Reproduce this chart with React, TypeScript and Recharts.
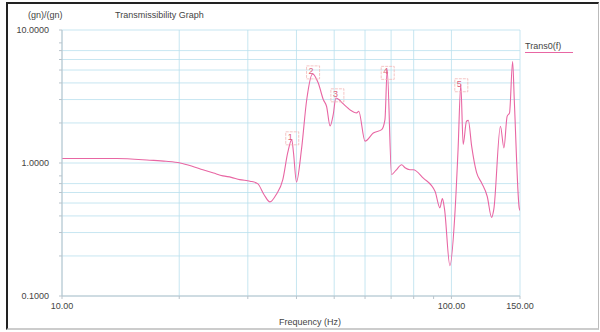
import { LineChart, Line, XAxis, YAxis, CartesianGrid, ReferenceDot } from "recharts";

const freq = [
  10, 12, 13.8, 16.8, 18.5, 20.1, 21.5, 23, 24.5, 25.9, 27.2, 28.6, 30.4, 31.8, 33, 34.2, 35.5, 36.9,
  38.0, 38.9, 39.3, 40, 41.2, 42.5, 44.0, 45.5, 46.9, 47.8, 48.8, 49.7, 50.5, 51.5, 52.5, 54.8, 57.1,
  57.8, 60.0, 63.0, 66.2, 67.5, 68.4, 70.2, 72, 74.5, 76, 78.2, 79.8, 84.7, 90.8, 93.4, 94.8, 96,
  99.1, 102, 104, 105.7, 107.2, 109.3, 110.5, 112.7, 116, 119.5, 123.6, 126.8, 128.5, 133.6, 136.4,
  139, 141, 143.6, 145, 149.3, 150,
];
const trans = [
  1.08, 1.08, 1.08, 1.05, 1.03, 1.0, 0.95, 0.89, 0.84, 0.8, 0.78, 0.75, 0.73, 0.7, 0.58, 0.51, 0.58,
  0.75, 1.2, 1.5, 1.2, 0.72, 1.26, 2.99, 4.68, 3.99, 2.99, 2.66, 1.9, 2.3, 3.08, 2.99, 2.82, 2.52,
  2.38, 2.45, 1.46, 1.68, 1.78, 2.12, 5.02, 0.82, 0.88, 0.97, 0.92, 0.89, 0.89, 0.77, 0.61, 0.46,
  0.54, 0.45, 0.169, 0.4, 1.26, 3.87, 1.38, 2.06, 2.09, 1.34, 0.85, 0.71, 0.56, 0.39, 0.45, 1.89,
  1.3, 2.24, 2.38, 5.8, 3.0, 0.46, 0.44,
];

const markerFreq = [38.9, 44.0, 50.8, 68.4, 105.7];
const markerVal = [1.52, 4.76, 3.2, 4.72, 3.81];
const markerLabels = ["1", "2", "3", "4", "5"];

const xTicks = [10, 20, 30, 40, 50, 60, 70, 80, 90, 100, 150];
const xLabeled = [10, 100, 150];
const yTicks = [
  0.1, 0.2, 0.3, 0.4, 0.5, 0.6, 0.7, 0.8, 0.9, 1, 2, 3, 4, 5, 6, 7, 8, 9, 10,
];
const yLabeled = [0.1, 1, 10];

const data = freq.map((f, i) => ({ f, v: trans[i] }));

const font = "'Liberation Sans', Arial, sans-serif";
const pink = "#e866a3";

function Marker(props: any) {
  const { cx, cy, label } = props;
  return (
    <g>
      <rect x={cx - 6} y={cy - 7} width={13} height={13} fill="none" stroke="#f2b8b8" strokeWidth={0.8} strokeDasharray="3 1" />
      <text x={cx - 4} y={cy + 1} fontSize={9} fill="#e0607a" fontFamily={font}>
        {label}
      </text>
    </g>
  );
}

export default function App() {
  return (
    <div style={{ position: "absolute", left: 0, top: 0, width: 600, height: 332, background: "#fff", fontFamily: font }}>
      <div
        style={{
          position: "absolute",
          left: 6,
          top: 2,
          width: 590,
          height: 324,
          borderTop: "2px solid #222",
          borderLeft: "2px solid #222",
          borderRight: "1px solid #bbb",
          borderBottom: "2px solid #ccc",
        }}
      />
      <div style={{ position: "absolute", left: 28, top: 10, fontSize: 9, color: "#444" }}>(gn)/(gn)</div>
      <div style={{ position: "absolute", left: 115, top: 10, fontSize: 9, color: "#444" }}>Transmissibility Graph</div>
      <div style={{ position: "absolute", left: 525, top: 41, fontSize: 9, color: "#444" }}>Trans0(f)</div>
      <div style={{ position: "absolute", left: 525, top: 52, width: 48, height: 0, borderTop: `1px solid ${pink}` }} />
      <div style={{ position: "absolute", left: 0, top: 317, width: 620, textAlign: "center", fontSize: 9, color: "#444" }}>
        Frequency (Hz)
      </div>
      <div style={{ position: "absolute", left: 0, top: 0 }}>
        <LineChart width={600} height={332} data={data} margin={{ top: 30, right: 80, bottom: 16, left: 8 }}>
          <CartesianGrid stroke="#b9dfee" strokeWidth={0.8} />
          <XAxis
            dataKey="f"
            type="number"
            scale="log"
            domain={[10, 150]}
            ticks={xTicks}
            allowDataOverflow
            height={20}
            tickSize={3}
            tickMargin={4}
            tickLine={{ stroke: "#b9c4cc" }}
            axisLine={{ stroke: "#b9c4cc" }}
            tick={{ fontSize: 9, fill: "#444", fontFamily: font }}
            tickFormatter={(t: number) => (xLabeled.includes(t) ? t.toFixed(2) : "")}
          />
          <YAxis
            type="number"
            scale="log"
            domain={[0.1, 10]}
            ticks={yTicks}
            allowDataOverflow
            width={54}
            tickSize={3}
            tickMargin={10}
            tickLine={{ stroke: "#b9c4cc" }}
            axisLine={{ stroke: "#b9c4cc" }}
            tick={{ fontSize: 9, fill: "#444", fontFamily: font }}
            tickFormatter={(t: number) => (yLabeled.includes(t) ? t.toFixed(4) : "")}
          />
          <Line
            type="monotoneX"
            dataKey="v"
            stroke={pink}
            strokeWidth={1.1}
            dot={false}
            isAnimationActive={false}
          />
          {markerFreq.map((f, i) => (
            <ReferenceDot
              key={i}
              x={f}
              y={markerVal[i]}
              r={6}
              shape={(p: any) => <Marker {...p} label={markerLabels[i]} />}
            />
          ))}
        </LineChart>
      </div>
    </div>
  );
}
